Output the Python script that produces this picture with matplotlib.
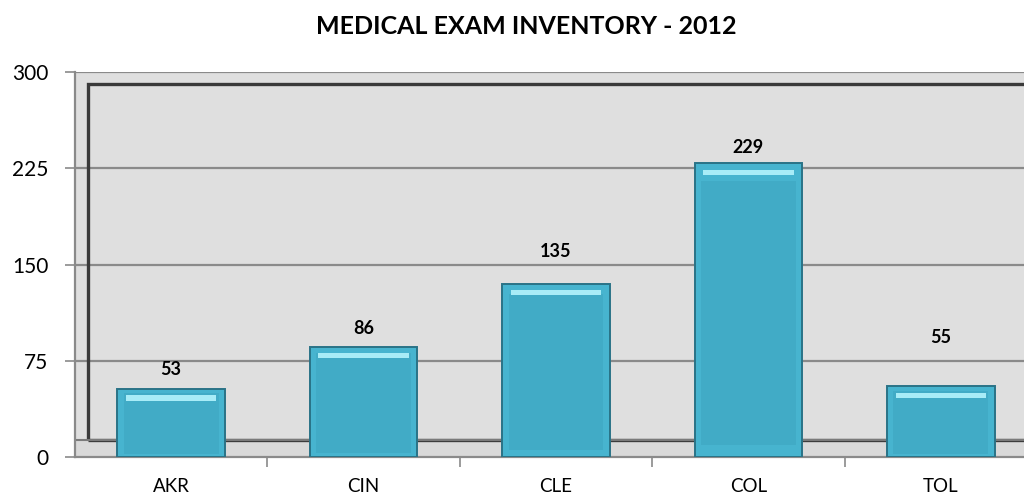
import matplotlib
matplotlib.use("Agg")
import matplotlib.pyplot as plt
from matplotlib.patches import Rectangle

categories = ["AKR", "CIN", "CLE", "COL", "TOL"]
values = [53, 86, 135, 229, 55]
yticks = [0, 75, 150, 225, 300]

plt.rcParams["font.family"] = ["Lato", "DejaVu Sans"]

fig = plt.figure(figsize=(10.24, 4.98), dpi=100)
ax = fig.add_axes([0.0732, 0.0823, 0.9395, 0.7731])
ax.set_facecolor("#dfdfdf")

x = range(len(categories))
ax.set_xlim(-0.5, len(categories) - 0.5)
ax.set_ylim(0, 300)

# gridlines
for t in yticks[1:]:
    ax.axhline(t, color="#8a8a8a", lw=1.6, zorder=1)

# back wall frame (3D look)
ax.add_patch(Rectangle((0.0135, 0.044), 1.0, 0.925, transform=ax.transAxes,
                       fill=False, ec="#3a3a3a", lw=2.4, zorder=1.5))
ax.add_patch(Rectangle((0.0, 0.0), 1.0, 0.044, transform=ax.transAxes,
                       fc="#d9d9d9", ec="none", zorder=1.4))
ax.axhline(300 * 0.044, color="#7a7a7a", lw=1.5, zorder=1.6)

# bars with bevel
w = 0.56
ax.bar(x, values, width=w, color="#47b4cf", edgecolor="#2a7387", lw=1.4, zorder=3)
ax.bar(x, [v * 0.9 for v in values], width=w * 0.88, bottom=[v * 0.04 for v in values],
       color="#41abc6", edgecolor="none", zorder=3.1)
ax.bar(x, [4] * len(values), width=w * 0.84, bottom=[v - 9 for v in values],
       color="#a8ecf7", edgecolor="none", zorder=3.2)

offsets = [14, 13, 23, 11.5, 35]
for i, v in enumerate(values):
    ax.annotate(str(v), (i, v), xytext=(0, offsets[i]), textcoords="offset points",
                ha="center", va="center", fontsize=13, fontweight="bold", zorder=5)

ax.set_yticks(yticks)
ax.set_yticklabels([str(t) for t in yticks], fontsize=15)
ax.set_xticks(list(x))
ax.set_xticklabels(categories, fontsize=13.5)
ax.set_xticks([i + 0.5 for i in range(len(categories) - 1)], minor=True)
ax.tick_params(axis="x", which="major", length=0, pad=15)
ax.tick_params(axis="x", which="minor", length=7, color="#8a8a8a", width=1.2)
ax.tick_params(axis="y", length=7, color="#8a8a8a", width=1.2, pad=12)

for s in ["top", "right"]:
    ax.spines[s].set_visible(False)
ax.spines["left"].set_color("#8a8a8a")
ax.spines["left"].set_linewidth(1.6)
ax.spines["bottom"].set_color("#8a8a8a")
ax.spines["bottom"].set_linewidth(1.6)

fig.text(0.514, 0.947, "MEDICAL EXAM INVENTORY - 2012", ha="center", va="center",
         fontsize=18, fontweight="bold")

fig.savefig("out.png", dpi=100)
